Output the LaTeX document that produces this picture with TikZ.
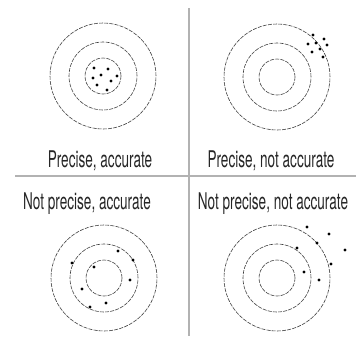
\documentclass[tikz,border=0pt]{standalone}
\usepackage{fontspec}
\setmainfont[FakeStretch=0.59]{TeX Gyre Heros}
\begin{document}
\begin{tikzpicture}[x=1pt, y=-1pt,
    ring/.style={draw=black!75, line width=0.6pt, dash pattern=on 4pt off 1.2pt},
    shot/.style={fill=black},
    divider/.style={draw=black!30, line width=1.2pt},
    caption/.style={font=\fontsize{23}{23}\selectfont, text=black!85, inner sep=0pt}]
    \useasboundingbox (0,0) rectangle (356,338);

    % Dividers
    \draw[divider] (189,8) -- (189,336);
    \draw[divider] (15,176) -- (356,176);

    % Targets
    \foreach \cx/\cy in {103/76, 277/77, 104/278, 277/278} {
        \draw[ring] (\cx,\cy) circle[radius=53pt];
        \draw[ring] (\cx,\cy) circle[radius=34pt];
        \draw[ring] (\cx,\cy) circle[radius=18pt];
    }

    % Shots
    \foreach \p in {(94,68), (108,69), (117,76), (93,78), (101,75), (111,81), (97,85), (107,90)}
        \fill[shot] \p circle[radius=1.6pt];
    \foreach \p in {(313,35), (324,39), (308,44), (316,43), (327,45), (320,49), (312,52), (323,57)}
        \fill[shot] \p circle[radius=1.6pt];
    \foreach \p in {(118,251), (133,260), (72,263), (94,267), (130,280), (82,289), (106,303), (90,307)}
        \fill[shot] \p circle[radius=1.6pt];
    \foreach \p in {(307,227), (329,234), (317,243), (297,248), (345,250), (331,264), (304,272), (319,280)}
        \fill[shot] \p circle[radius=1.6pt];

    % Captions
    \node[caption] (pa) at (100,161) {Precise, accurate};
    \node[caption] (pna) at (271,161) {Precise, not accurate};
    \node[caption] (npa) at (87,204) {Not precise, accurate};
    \node[caption] (npna) at (273,204) {Not precise, not accurate};
\end{tikzpicture}
\end{document}
